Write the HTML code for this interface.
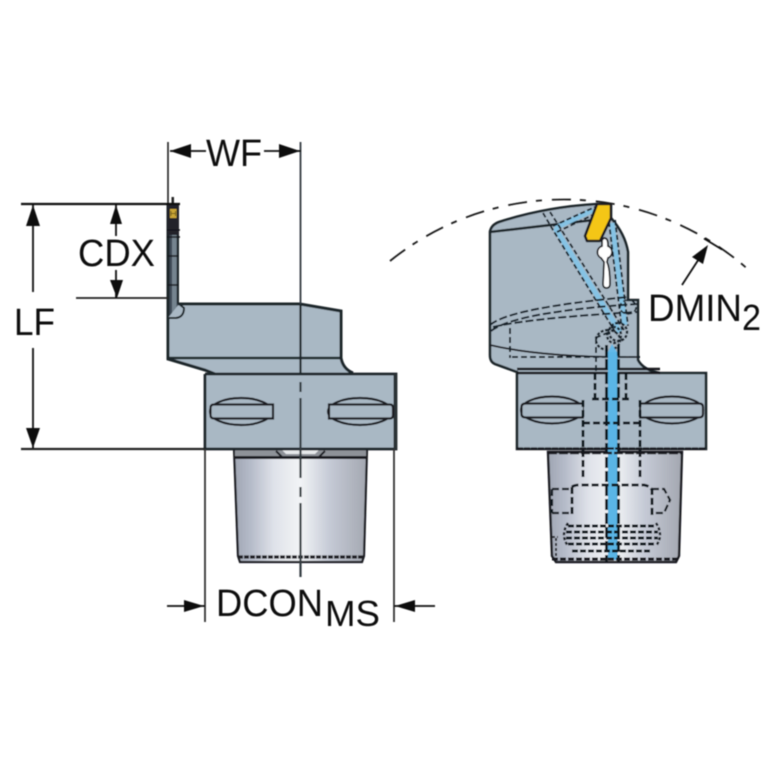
<!DOCTYPE html>
<html><head><meta charset="utf-8"><style>
html,body{margin:0;padding:0;background:#fff;width:767px;height:767px;overflow:hidden}
svg{display:block}
text{font-family:"Liberation Sans",sans-serif;fill:#111}
</style></head><body>
<svg width="767" height="767" viewBox="0 0 767 767" xmlns="http://www.w3.org/2000/svg">
<defs>
<linearGradient id="g" x1="0" x2="1" y1="0" y2="0">
<stop offset="0" stop-color="#9fa5b2"/><stop offset=".12" stop-color="#b4bac8"/><stop offset=".3" stop-color="#dfe2e9"/><stop offset=".5" stop-color="#f2f4f6"/><stop offset=".72" stop-color="#c5cad6"/><stop offset="1" stop-color="#a3a7b0"/>
</linearGradient>
<filter id="b" x="-5%" y="-5%" width="110%" height="110%"><feGaussianBlur stdDeviation="0.65"/></filter>
</defs>
<g filter="url(#b)">
<!-- LEFT VIEW -->
<path d="M234 449H367L364 556L362 562H240L238 556Z" fill="url(#g)" stroke="#1a1d22" stroke-width="2.2"/>
<path d="M235 450H366V457H235Z" fill="#8e9298"/>
<path d="M281 449H320L315 454H286Z" fill="#e6e8ea"/>
<path d="M276 451L282 457M325 451L319 457" stroke="#1a1d22" stroke-width="2"/>
<path d="M235 457.500H366" stroke="#1a1d22" stroke-width="3"/>
<path d="M238 557H364" stroke="#1a1d22" stroke-width="3.2" stroke-dasharray="5 1"/>
<path d="M168 205V359L205 370L215 374H205V449H396V374H352Q343 370 341 358V311L300 304H179V205Z" fill="#a9b8c4"/>
<rect x="168" y="228" width="10" height="90" fill="#3e4a55"/>
<rect x="172" y="230" width="4.500" height="85" fill="#75848f"/>
<path d="M168 205V359L205 370L215 374" fill="none" stroke="#1f252b" stroke-width="3"/>
<path d="M178 205V304M168 318H176Q184 317 184 308L179 304" fill="#a9b8c4" stroke="#1f252b" stroke-width="2"/>
<path d="M178 304H300L341 311V358Q343 369 353 373" fill="none" stroke="#1f252b" stroke-width="3"/>
<path d="M168 358H341" stroke="#1f252b" stroke-width="2.600"/>
<path d="M205 374V449H396V374H205" fill="none" stroke="#1f252b" stroke-width="2.800"/>
<rect x="393.500" y="374" width="3.500" height="75" fill="#2c3136"/>
<!-- tool tip -->
<rect x="167" y="205" width="12" height="30" fill="#20242a"/>
<rect x="170" y="209" width="6.500" height="9" fill="#c9a534"/>
<path d="M171 211V216M175.500 211V216M171 213.500H175.500" stroke="#5b4a12" stroke-width=".8"/>
<path d="M167 230H180M167 237H180M168 256H178M168 285H178" stroke="#15181c" stroke-width="1.600"/>
<rect x="171.500" y="197" width="2.500" height="8" fill="#222"/>
<!-- slots -->
<g fill="#a9b8c4" stroke="#1a1d22" stroke-width="2.200">
<ellipse cx="241" cy="411.500" rx="31" ry="13.500"/>
<path d="M273 404.500H214Q210.500 404.500 210.500 408V415Q210.500 418.500 214 418.500H273Z"/>
<ellipse cx="360" cy="411.500" rx="32" ry="13.500"/>
<path d="M329 404.500H390Q393 404.500 393 408V415Q393 418.500 390 418.500H329Z"/>
</g>
<!-- centre line -->
<path d="M300.500 142V304" stroke="#333a40" stroke-width="1.800"/>
<path d="M300.500 304V373" stroke="#1f252b" stroke-width="2.200"/>
<path d="M300.500 382V392M300.500 398V450M300.500 450V478M300.500 487V497M300.500 503V577" stroke="#333a40" stroke-width="2.200"/>
<!-- dimension lines -->
<path d="M168 142V205" stroke="#222" stroke-width="1.600"/>
<path d="M21 204H180" stroke="#111" stroke-width="2.200"/>
<path d="M21 449H205" stroke="#222" stroke-width="2.200"/>
<path d="M76 298H168" stroke="#222" stroke-width="1.800"/>
<path d="M205 449V622" stroke="#333" stroke-width="1.800"/>
<path d="M394 449V622" stroke="#333" stroke-width="1.800"/>
<path d="M33 205V292M33 348V448M116 205V236M116 270V298" stroke="#111" stroke-width="1.800"/>
<path d="M33 205L40 226H26ZM33 448L26 428H40ZM116 205L122 224H110ZM117 298L110 280H123Z" fill="#111"/>
<path d="M170 151H206M264 151H301" stroke="#111" stroke-width="1.800"/>
<path d="M170 151L191 144V158ZM300 151L279 144V158Z" fill="#111"/>
<path d="M167 606H205M394 606H435" stroke="#111" stroke-width="1.800"/>
<path d="M204 606L184 600V612ZM395 606L415 600V612Z" fill="#111"/>

<!-- RIGHT VIEW -->
<path d="M548 452H682L679 556L676 562H556L552 556Z" fill="url(#g)" stroke="#1a1d22" stroke-width="2.400"/>
<path d="M490 232Q491 225 499 222Q545 207 597 204L611 218Q625 234 628 252V300H638V360Q643 370 660 373H706V449H517V372L495 364Q490 362 490 355Z" fill="#a9b8c4"/>
<path d="M490 232Q491 225 499 222Q545 207 597 204M611 218Q625 234 628 252V300H638V360Q643 370 660 373H706V449H517V372L495 364Q490 362 490 355V232Z" fill="none" stroke="#1f252b" stroke-width="2.600"/>
<path d="M517 369H660M517 373H660" stroke="#14181c" stroke-width="2.600"/>
<path d="M490 345Q545 358 640 357" fill="none" stroke="#1a1d22" stroke-width="1.800"/>
<!-- coolant -->
<path d="M555 228L620 332M555 228L593 210M612 223L625 325" fill="none" stroke="#86c3e4" stroke-width="5"/>
<g fill="none" stroke="#16212b" stroke-width="1.900" stroke-dasharray="5 2.500">
<path d="M543 213L553 230L617 335M550 212L559 226L624 330"/>
<path d="M553 226L595 207M557 232L597 213"/>
<path d="M609 222L622 330M615 220L628 326"/>
<path d="M490 325Q510 308 628 297M491 331Q515 312 637 304M493 327Q530 318 637 312" stroke-width="2" stroke-dasharray="8 3"/>
<path d="M510 328V358M595 338L612 331M596 338V372M512 357H640" stroke-width="2" stroke-dasharray="6 3"/>
<path d="M608 330a12 10 0 1 0 .1 0M618 323a9 9 0 1 0 .1 0M614 327a7 8 0 1 0 .1 0" stroke-width="2.400" stroke-dasharray="3 1.500"/>
<path d="M628 300a8 7 0 1 0 .1 0" stroke-width="1.600"/>
</g>
<!-- insert -->
<path d="M597 204H611V218L600 241H587L585 236Z" fill="#f4c615" stroke="#1a1d22" stroke-width="2.600" stroke-linejoin="round"/>
<!-- clamp slot -->
<path d="M604 238Q608 238 608 244V246A6.500 6.500 0 0 1 608 258L607 262Q610 268 610 284Q610 288 606.500 288Q603 288 603 284L604 262L601 258A6.500 6.500 0 0 1 602 246V240Z" fill="#fff" stroke="#1a1d22" stroke-width="1.800"/>
<path d="M612 344L607 354H618Z" fill="#64b8e8"/>
<rect x="608" y="352" width="9.500" height="208" fill="#5ab5e6"/>
<!-- slots right -->
<g fill="#a9b8c4" stroke="#1a1d22" stroke-width="2.200">
<ellipse cx="552" cy="410" rx="31" ry="13.500"/>
<path d="M584 403.500H526Q521.500 403.500 521.500 407V414Q521.500 417.500 526 417.500H584Z"/>
<ellipse cx="672" cy="410" rx="31" ry="13.500"/>
<path d="M640 403.500H699Q703 403.500 703 407V414Q703 417.500 699 417.500H640Z"/>
</g>
<rect x="584" y="400" width="55" height="46" fill="#a9b8c4"/>
<rect x="608" y="398" width="9.500" height="52" fill="#5ab5e6"/>
<g fill="none" stroke="#11151a" stroke-width="2.800" stroke-dasharray="7 3">
<path d="M595 373V399M626 373V399"/>
<path d="M592 399H632M583 400V480M640 400V480M583 423H640"/>
<path d="M606.500 345V562M618.500 345V562" stroke-dasharray="11 3"/>
<path d="M572 487Q574 485 580 485H644Q650 486 652 490V515M572 487V514"/>
<path d="M552 489H572M552 513H572M552 489V513" stroke-width="2.200"/>
<path d="M652 489H664L670 500L664 513H652" stroke-width="2.200"/>
<path d="M568 526H656M566 532H658M566 538H658M568 544H656M572 551H652" stroke-width="3" stroke-dasharray="6 2"/>
<path d="M568 523Q560 535 568 546M656 523Q664 535 656 546" stroke-width="2.400" stroke-dasharray="3 2"/>
</g>
<path d="M552 559H680" stroke="#14181c" stroke-width="3" stroke-dasharray="6 2"/>
<path d="M548 453H682" stroke="#14181c" stroke-width="2.600" stroke-dasharray="9 2"/>
<path d="M517 448.500H706" stroke="#14181c" stroke-width="2.200" stroke-dasharray="6 1"/>
<path d="M556 538V558M552 537H558" stroke="#1a1d22" stroke-width="2" stroke-dasharray="3 2"/>
<!-- arc -->
<path d="M390 261A277 277 0 0 1 752 273" fill="none" stroke="#1a1a1a" stroke-width="1.800" stroke-dasharray="19 9 6 10"/>
<path d="M682 285L706 248" stroke="#111" stroke-width="1.800"/>
<path d="M708 245L703 264L692 257Z" fill="#111"/>
<path d="M704 238.500L722 249.500" stroke="#111" stroke-width="1.800"/>
<!-- labels -->
<text x="206" y="166" font-size="38" textLength="56" lengthAdjust="spacingAndGlyphs">WF</text>
<text x="78" y="266" font-size="38" textLength="77" lengthAdjust="spacingAndGlyphs">CDX</text>
<text x="14" y="335" font-size="38" textLength="41" lengthAdjust="spacingAndGlyphs">LF</text>
<text x="216" y="616" font-size="38" textLength="107" lengthAdjust="spacingAndGlyphs">DCON</text>
<text x="325" y="626" font-size="36" textLength="55" lengthAdjust="spacingAndGlyphs">MS</text>
<text x="648" y="321" font-size="38" textLength="94" lengthAdjust="spacingAndGlyphs">DMIN</text>
<text x="742" y="330" font-size="36" textLength="19" lengthAdjust="spacingAndGlyphs">2</text>
</g>
</svg>
</body></html>
